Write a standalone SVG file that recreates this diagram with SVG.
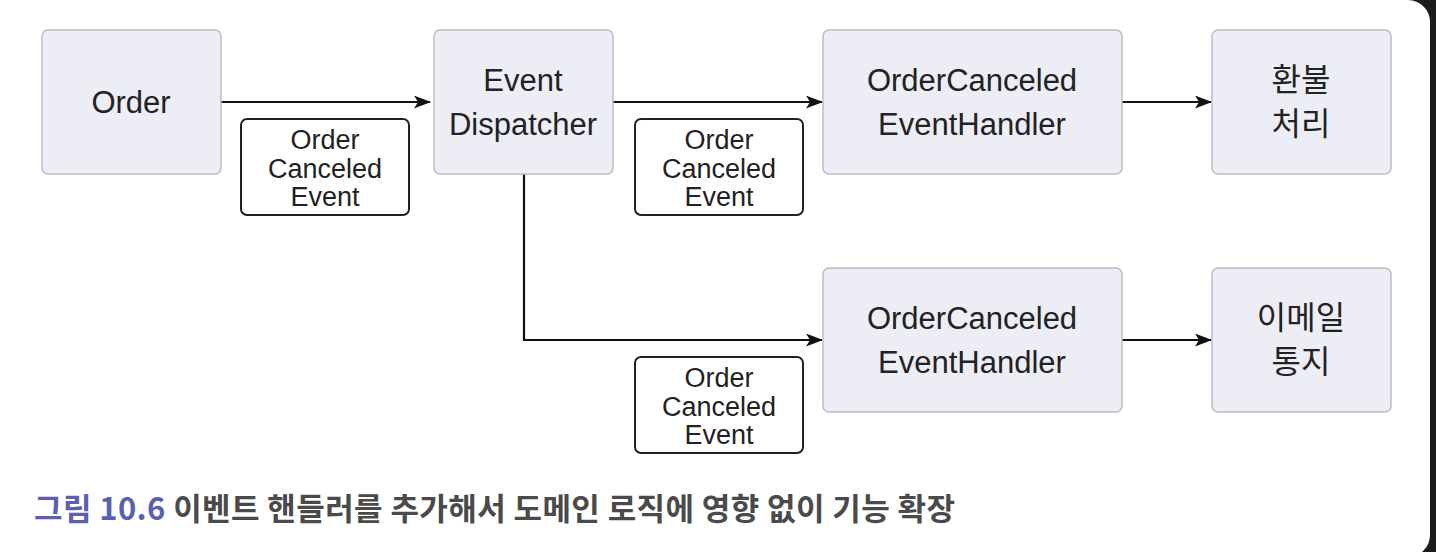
<svg xmlns="http://www.w3.org/2000/svg" width="1436" height="552" viewBox="0 0 1436 552">
<defs>
<style>
.node rect{fill:#ededf6;stroke:#bcbcc4;stroke-width:1.5}
.node text{font-family:"Liberation Sans",Arial,"Noto Sans CJK KR",sans-serif;font-size:31px;fill:#222;text-anchor:middle}
.node text.ko{font-family:"Noto Sans CJK KR",sans-serif;font-size:32px}
.lbl rect{fill:#fff;stroke:#222;stroke-width:2}
.lbl text{font-family:"Liberation Sans",Arial,sans-serif;font-size:27px;fill:#222;text-anchor:middle}
.conn{fill:none;stroke:#111;stroke-width:2.2}
.cap{font-family:"Noto Sans CJK KR","Noto Sans",sans-serif;font-size:31px;font-weight:bold}
</style>
<marker id="arr" viewBox="0 0 17 13" refX="16" refY="6.5" markerWidth="17" markerHeight="13" markerUnits="userSpaceOnUse" orient="auto">
<path d="M0,0 L17,6.5 L0,13 L4,6.5 Z" fill="#111"/>
</marker>
</defs>
<rect x="0" y="0" width="1436" height="552" fill="#1c1c1c"/>
<path d="M0,0 H1408 A22,22 0 0 1 1430,22 V535 A22,22 0 0 1 1408,557 H0 Z" fill="#fff"/>

<g id="connectors">
<line class="conn" x1="221" y1="102" x2="430" y2="102" marker-end="url(#arr)"/>
<line class="conn" x1="613" y1="102" x2="822" y2="102" marker-end="url(#arr)"/>
<polyline class="conn" points="524,174 524,340 822,340" marker-end="url(#arr)"/>
<line class="conn" x1="1122" y1="102" x2="1211" y2="102" marker-end="url(#arr)"/>
<line class="conn" x1="1122" y1="340" x2="1211" y2="340" marker-end="url(#arr)"/>
</g>

<g id="label1" class="lbl">
<rect x="241" y="119" width="168" height="96" rx="6"/>
<text x="325" y="149">Order</text>
<text x="325" y="178">Canceled</text>
<text x="325" y="206">Event</text>
</g>
<g id="label2" class="lbl">
<rect x="635" y="119" width="168" height="96" rx="6"/>
<text x="719" y="149">Order</text>
<text x="719" y="178">Canceled</text>
<text x="719" y="206">Event</text>
</g>
<g id="label3" class="lbl">
<rect x="635" y="357" width="168" height="96" rx="6"/>
<text x="719" y="387">Order</text>
<text x="719" y="416">Canceled</text>
<text x="719" y="444">Event</text>
</g>

<g id="order" class="node">
<rect x="42" y="30" width="179" height="144" rx="6"/>
<text x="131" y="113">Order</text>
</g>
<g id="dispatcher" class="node">
<rect x="434" y="30" width="179" height="144" rx="6"/>
<text x="523" y="91">Event</text>
<text x="523" y="135">Dispatcher</text>
</g>
<g id="handler1" class="node">
<rect x="823" y="30" width="299" height="144" rx="6"/>
<text x="972" y="91">OrderCanceled</text>
<text x="972" y="135">EventHandler</text>
</g>
<g id="refund" class="node">
<rect x="1212" y="30" width="179" height="144" rx="6"/>
<text class="ko" x="1301" y="91">환불</text>
<text class="ko" x="1301" y="135">처리</text>
</g>
<g id="handler2" class="node">
<rect x="823" y="268" width="299" height="144" rx="6"/>
<text x="972" y="329">OrderCanceled</text>
<text x="972" y="373">EventHandler</text>
</g>
<g id="email" class="node">
<rect x="1212" y="268" width="179" height="144" rx="6"/>
<text class="ko" x="1301" y="329">이메일</text>
<text class="ko" x="1301" y="373">통지</text>
</g>

<text class="cap" x="34" y="520" textLength="921" lengthAdjust="spacing"><tspan fill="#5a5fb3">그림 10.6</tspan><tspan fill="#4a4a4a"> 이벤트 핸들러를 추가해서 도메인 로직에 영향 없이 기능 확장</tspan></text>
</svg>
